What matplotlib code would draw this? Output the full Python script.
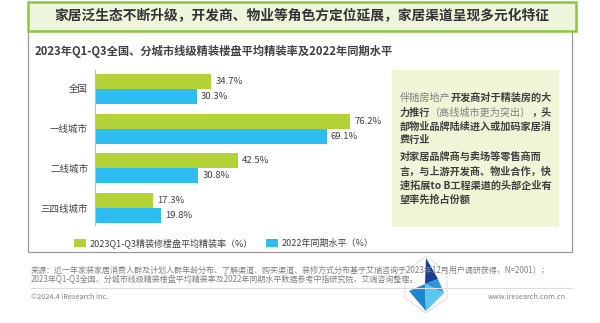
import numpy as np
import matplotlib
matplotlib.use('Agg')
import matplotlib.pyplot as plt
from matplotlib.patches import Rectangle, Polygon, Patch
from matplotlib.lines import Line2D

plt.rcParams['font.family'] = ['Noto Sans CJK SC', 'DejaVu Sans']

# data
categories = ['全国', '一线城市', '二线城市', '三四线城市']
rate_2023 = [34.7, 76.2, 42.5, 17.3]
rate_2022 = [30.3, 69.1, 30.8, 19.8]
series_names = ['2023Q1-Q3精装修楼盘平均精装率（%）', '2022年同期水平（%）']

title = '家居泛生态不断升级，开发商、物业等角色方定位延展，家居渠道呈现多元化特征'
subtitle = '2023年Q1-Q3全国、分城市线级精装楼盘平均精装率及2022年同期水平'
note_lines = [
    [('伴随房地产', False), ('开发商对于精装房的大', True)],
    [('力推行', True), ('（高线城市更为突出）', False), ('，头', True)],
    [('部物业品牌陆续进入或加码家居消', True)],
    [('费行业', True)],
    [('对家居品牌商与卖场等零售商而', True)],
    [('言，与上游开发商、物业合作，快', True)],
    [('速拓展to B工程渠道的头部企业有', True)],
    [('望率先抢占份额', True)],
]
source_lines = [
    '来源：近一年家装家居消费人群及计划人群年龄分布、了解渠道、购买渠道、装修方式分布基于艾瑞咨询于2023年12月用户调研获得，N=2001）；',
    '2023年Q1-Q3全国、分城市线级精装楼盘平均精装率及2022年同期水平数据参考中指研究院，艾瑞咨询整理。',
]

GREEN = '#b2d235'
BLUE = '#2dbdf0'
DARK = '#404040'
GREY = '#808080'

W, H = 600, 323
fig = plt.figure(figsize=(6, 3.23), dpi=100)


def fx(x):
    return x / W


def fy(y):
    return 1 - y / H


def box(x0, y0, x1, y1, **kw):
    r = Rectangle((fx(x0), fy(y1)), (x1 - x0) / W, (y1 - y0) / H,
                  transform=fig.transFigure, **kw)
    fig.add_artist(r)
    return r


# outer panel and header band
box(28, 31, 572, 252, facecolor='none', edgecolor='#9a9a9a', lw=0.9)
box(28, 2, 576, 31, facecolor='#eef5dd', edgecolor='#8dc63f', lw=1.8)
fig.text(fx(302), fy(16.5), title, ha='center', va='center',
         fontsize=9.9, fontweight='bold', color='#333333')
fig.text(fx(35), fy(51), subtitle, ha='left', va='center',
         fontsize=8.1, fontweight='bold', color=DARK)

# bar chart
ax = fig.add_axes([fx(95), fy(225), (380 - 95) / W, (225 - 70) / H])
y = np.arange(len(categories))
h = 0.375
ax.barh(y - h / 2, rate_2023, height=h, color=GREEN)
ax.barh(y + h / 2, rate_2022, height=h, color=BLUE)
for i in range(len(categories)):
    ax.text(rate_2023[i] + 1.2, y[i] - h / 2, f'{rate_2023[i]}%',
            va='center', fontsize=6.8, color=DARK)
    ax.text(rate_2022[i] + 1.2, y[i] + h / 2, f'{rate_2022[i]}%',
            va='center', fontsize=6.8, color=DARK)
ax.set_xlim(0, 85)
ax.set_ylim(3.42, -0.47)
ax.set_yticks(y)
ax.set_yticklabels(categories)
ax.set_xticks([])
ax.tick_params(axis='y', length=0, labelsize=6.8, labelcolor=DARK, pad=5)
for s in ['top', 'right', 'bottom']:
    ax.spines[s].set_visible(False)
ax.spines['left'].set_color('#bfbfbf')
ax.spines['left'].set_linewidth(0.8)
ax.patch.set_visible(False)

# legend
handles = [Patch(facecolor=GREEN), Patch(facecolor=BLUE)]
fig.legend(handles, series_names, loc='center left',
           bbox_to_anchor=(fx(66), fy(243)), ncol=2, frameon=False,
           fontsize=6.5, handlelength=1.3, handleheight=1.0,
           handletextpad=0.45, columnspacing=1.4, labelcolor=DARK)

# note box on the right
box(392, 70, 559, 227, facecolor='#eff5d7', edgecolor='none')
renderer = fig.canvas.get_renderer()
line_y = [98, 112.5, 126.5, 140, 157, 171.5, 185.5, 199.5]
for ly, runs in zip(line_y, note_lines):
    x = 400
    for s, bold in runs:
        t = fig.text(fx(x), fy(ly), s, ha='left', va='center', fontsize=7.3,
                     fontweight='bold' if bold else 'normal',
                     color=DARK if bold else GREY)
        x += t.get_window_extent(renderer).width

# footer
fig.text(fx(31), fy(270), source_lines[0], ha='left', va='center',
         fontsize=5.8, color=GREY)
fig.text(fx(31), fy(280), source_lines[1], ha='left', va='center',
         fontsize=5.8, color=GREY)
fig.add_artist(Line2D([fx(31), fx(572)], [fy(288), fy(288)],
                      transform=fig.transFigure, color='#dcdcdc', lw=0.8))
fig.text(fx(31), fy(297), '©2024.4 iResearch Inc.', ha='left', va='center',
         fontsize=5.3, color=GREY)
fig.text(fx(566), fy(297), 'www.iresearch.com.cn', ha='right', va='center',
         fontsize=5.3, color=GREY)

# logo mark
def poly(pts, **kw):
    p = Polygon([(fx(a), fy(b)) for a, b in pts], closed=True,
                transform=fig.transFigure, **kw)
    fig.add_artist(p)


poly([(426, 256), (447, 272), (447, 298), (426, 313), (405, 298), (405, 272)],
     facecolor='white', edgecolor='#d0d0d0', lw=0.6, alpha=0.85)
poly([(426, 258), (438, 279), (425, 284)], facecolor='#163f93', edgecolor='none')
poly([(425, 284), (438, 279), (444, 293)], facecolor='#2b96d8', edgecolor='none')
poly([(409, 291), (425, 284), (426, 311)], facecolor='#1d86cf', edgecolor='none')
poly([(425, 284), (444, 293), (426, 311)], facecolor='#5bc6f0', edgecolor='none')

fig.savefig('out.png', dpi=100)
